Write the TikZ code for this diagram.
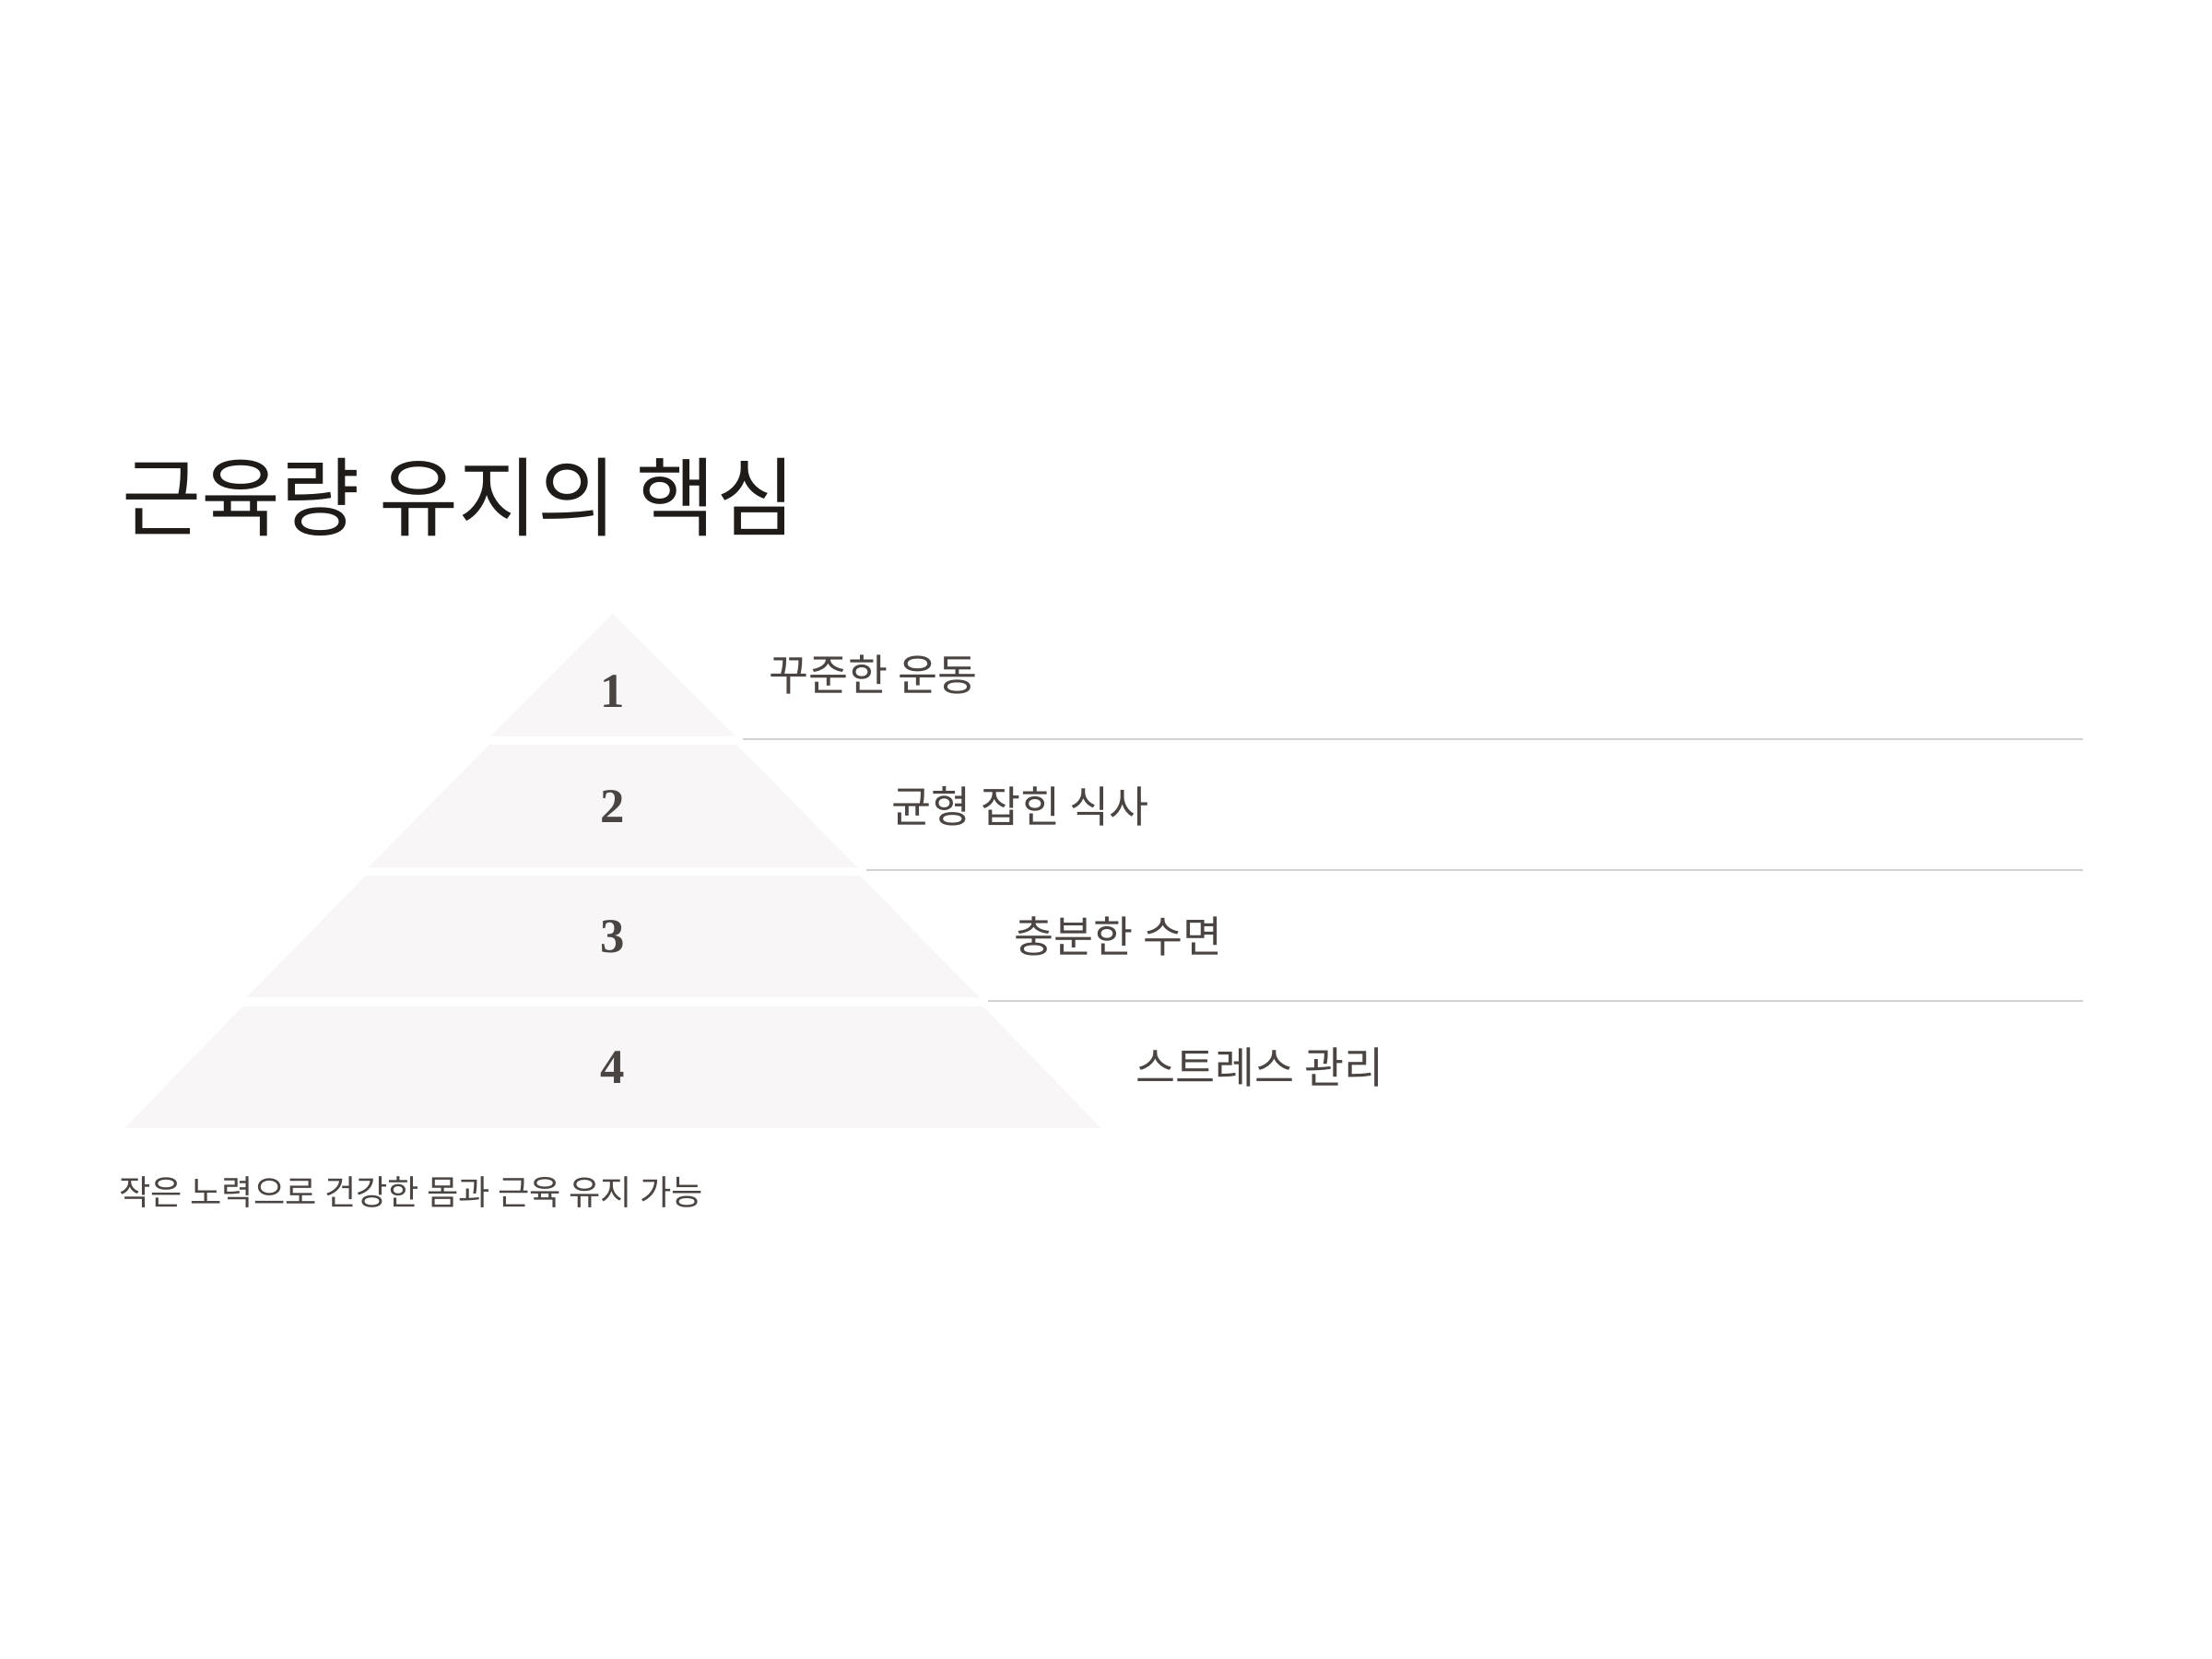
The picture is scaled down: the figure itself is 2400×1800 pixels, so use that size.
\documentclass[tikz,border=0pt]{standalone}
\usepackage{fontspec}
\newfontfamily\kr{Noto Sans CJK KR}
\newfontfamily\numf{Liberation Serif}
\definecolor{pyr}{HTML}{F8F6F6}
\definecolor{sepc}{HTML}{D5D1D1}
\definecolor{lab}{HTML}{4A4542}
\definecolor{ttl}{HTML}{1E1B19}
\begin{document}
\begin{tikzpicture}[x=0.01cm,y=-0.01cm,
  layer/.style={fill=pyr,draw=none},
  sepline/.style={draw=sepc,line width=0.65pt},
  lbl/.style={anchor=west,inner sep=0pt,text=lab,font=\kr\fontsize{13.3}{16}\selectfont},
  num/.style={inner sep=0pt,text=lab,font=\numf\bfseries\fontsize{15}{18}\selectfont},
  ttlstyle/.style={anchor=west,inner sep=0pt,text=ttl,font=\kr\fontsize{26.6}{31}\selectfont},
  capstyle/.style={anchor=west,inner sep=0pt,text=lab,font=\kr\fontsize{10.6}{13}\selectfont}]
\useasboundingbox[fill=white] (0,0) rectangle (2400,1800);
% pyramid layers
\fill[layer] (665,666) -- (797.5,798.7) -- (532.5,798.7) -- cycle;
\fill[layer] (531,808) -- (799,808) -- (930,941) -- (400,941) -- cycle;
\fill[layer] (397,950) -- (933,950) -- (1062,1082) -- (268,1082) -- cycle;
\fill[layer] (263.5,1092) -- (1066.5,1092) -- (1194.5,1224) -- (135.5,1224) -- cycle;
% numbers
\node[num] (n1) at (665,750) {1};
\node[num] (n2) at (665,875) {2};
\node[num] (n3) at (665,1016) {3};
\node[num] (n4) at (665,1158) {4};
% separator lines
\coordinate (s1a) at (806,802);  \coordinate (s1b) at (2260,802);
\coordinate (s2a) at (940,944);  \coordinate (s2b) at (2260,944);
\coordinate (s3a) at (1072,1086); \coordinate (s3b) at (2260,1086);
\draw[sepline] (s1a) -- (s1b);
\draw[sepline] (s2a) -- (s2b);
\draw[sepline] (s3a) -- (s3b);
% labels
\node[lbl] (l1) at (834,732) {꾸준한 운동};
\node[lbl] (l2) at (967,875) {균형 잡힌 식사};
\node[lbl] (l3) at (1100,1016) {충분한 수면};
\node[lbl] (l4) at (1232,1158) {스트레스 관리};
% title and caption
\node[ttlstyle] (title) at (132,539.5) {근육량 유지의 핵심};
\node[capstyle] (cap) at (129,1293.5) {작은 노력으로 건강한 몸과 근육 유지 가능};
\end{tikzpicture}
\end{document}
